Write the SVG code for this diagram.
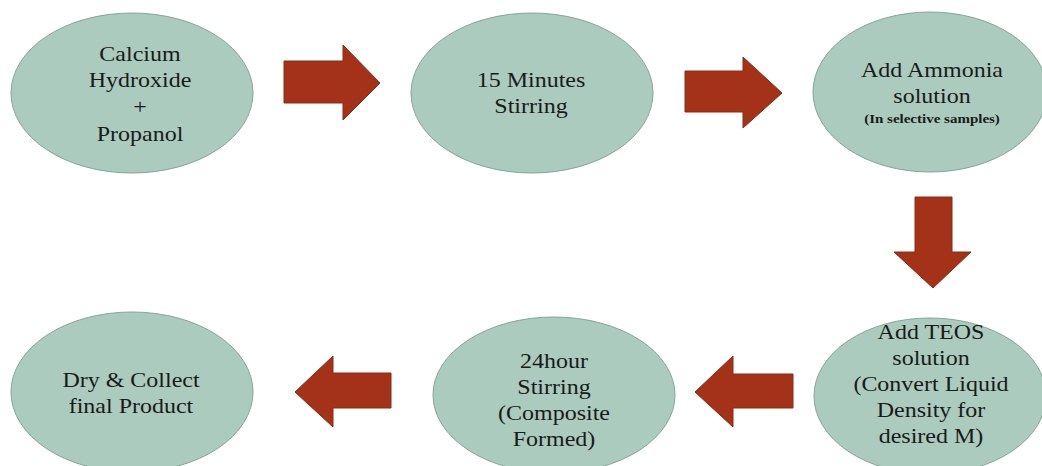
<svg xmlns="http://www.w3.org/2000/svg" width="1042" height="466" viewBox="0 0 1042 466" font-family="'Liberation Serif', 'DejaVu Serif', serif">
<style>
.node{fill:#aacbbd;stroke:#86a595;stroke-width:1}
.arrow{fill:#a33218;stroke:#8e2a12;stroke-width:1}
.t{font-family:'Liberation Serif','DejaVu Serif',serif;font-size:20px;fill:#1a1a1a;text-anchor:middle}
.small{font-size:12.5px;font-weight:bold}
</style>
<rect width="1042" height="466" fill="#ffffff"/>
<g id="connectors">
<polygon class="arrow" points="284,61 343,61 343,45 380,83 343,120 343,103 284,103"/>
<polygon class="arrow" points="685,71 743,71 743,57 782,93 743,128 743,112 685,112"/>
<polygon class="arrow" points="915,197 952,197 952,252 971,252 933,288 894,252 915,252"/>
<polygon class="arrow" points="793,374 733,374 733,356 695,392 733,427 733,408 793,408"/>
<polygon class="arrow" points="391,373 333,373 333,356 295,392 333,427 333,408 391,408"/>
</g>
<g id="node1">
<ellipse class="node" cx="132" cy="93" rx="121" ry="80"/>
<g transform="translate(140 0) scale(1.2 1)">
<text class="t" x="0" y="61">Calcium</text>
<text class="t" x="0" y="87">Hydroxide</text>
<text class="t" x="0" y="114">+</text>
<text class="t" x="0" y="141">Propanol</text>
</g>
</g>
<g id="node2">
<ellipse class="node" cx="532" cy="93" rx="121" ry="80"/>
<g transform="translate(531 0) scale(1.2 1)">
<text class="t" x="0" y="87">15 Minutes</text>
<text class="t" x="0" y="113">Stirring</text>
</g>
</g>
<g id="node3">
<ellipse class="node" cx="930" cy="92" rx="117" ry="80"/>
<g transform="translate(932 0) scale(1.2 1)">
<text class="t" x="0" y="77">Add Ammonia</text>
<text class="t" x="0" y="103">solution</text>
<text class="t small" x="0" y="123">(In selective samples)</text>
</g>
</g>
<g id="node4">
<ellipse class="node" cx="930" cy="396" rx="116" ry="78"/>
<g transform="translate(931 0) scale(1.2 1)">
<text class="t" x="0" y="339">Add TEOS</text>
<text class="t" x="0" y="365">solution</text>
<text class="t" x="0" y="391">(Convert Liquid</text>
<text class="t" x="0" y="417">Density for</text>
<text class="t" x="0" y="443">desired M)</text>
</g>
</g>
<g id="node5">
<ellipse class="node" cx="554" cy="395" rx="121" ry="78"/>
<g transform="translate(554 0) scale(1.2 1)">
<text class="t" x="0" y="368">24hour</text>
<text class="t" x="0" y="394">Stirring</text>
<text class="t" x="0" y="420">(Composite</text>
<text class="t" x="0" y="446">Formed)</text>
</g>
</g>
<g id="node6">
<ellipse class="node" cx="132" cy="392" rx="121" ry="80"/>
<g transform="translate(131 0) scale(1.2 1)">
<text class="t" x="0" y="387">Dry &amp; Collect</text>
<text class="t" x="0" y="413">final Product</text>
</g>
</g>
</svg>
